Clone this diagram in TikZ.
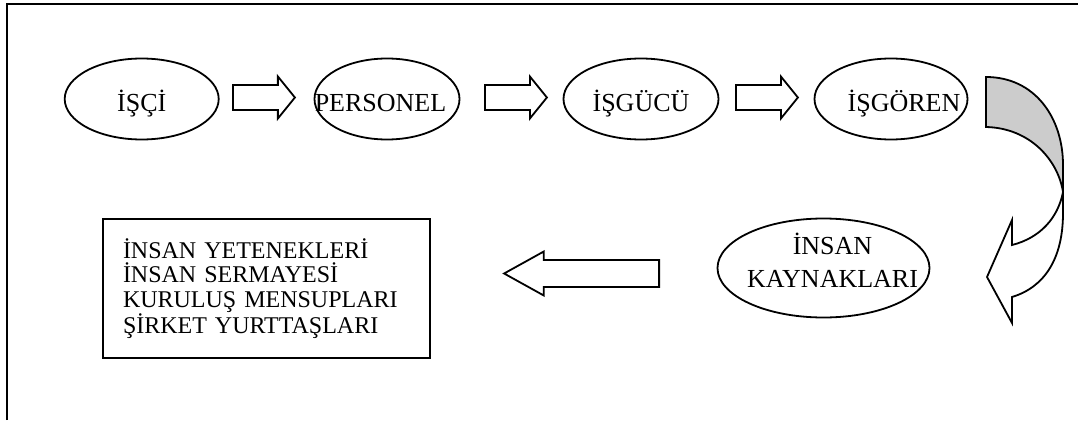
\documentclass[tikz,border=0pt]{standalone}
\usepackage{fontspec}
\setmainfont{Liberation Serif}
\usetikzlibrary{shapes.geometric,shapes.arrows,positioning}
\definecolor{Ink}{HTML}{000000}
\definecolor{Shade}{HTML}{CCCCCC}
\newcommand{\inoval}[3]{\makebox[0pt]{\hspace*{#1}\raisebox{#2}[0pt][0pt]{#3}}}
\tikzset{
  oval/.style={ellipse,draw=Ink,line width=1.8pt,inner sep=0pt,minimum height=81pt,font=\fontsize{26}{32.5}\selectfont},
  blockarr/.style={single arrow,draw=Ink,line width=1.8pt,inner sep=0pt,inner ysep=9.5pt,minimum width=42pt,minimum height=62pt,single arrow tip angle=102,single arrow head indent=0pt,anchor=tail},
  backarr/.style={blockarr,inner ysep=10.5pt,minimum width=44pt,minimum height=155pt,single arrow tip angle=58,shape border rotate=180},
  bentarr/.style={draw=Ink,line width=1.8pt,line join=miter},
  listbox/.style={rectangle,draw=Ink,line width=1.8pt,text width=287pt,inner xsep=20pt,inner ysep=0pt,minimum width=327pt,minimum height=139pt,align=left,font=\fontsize{24}{24.5}\selectfont},
  frame/.style={draw=Ink,line width=2.2pt}
}

\begin{document}
\begin{tikzpicture}[x=1pt,y=-1pt]
  \useasboundingbox (0,0) rectangle (1078,420);
  \draw[frame] (7,420) -- (7,4.3) -- (1078,4.3);

  \node[oval,minimum width=154pt] (isci) at (141.7,99) {\inoval{0pt}{-13pt}{İŞÇİ}};
  \node[oval,minimum width=145pt] (personel) at (387,99) {\inoval{-13pt}{-13pt}{PERSONEL}};
  \node[oval,minimum width=155pt] (isgucu) at (641,99) {\inoval{0pt}{-13pt}{İŞGÜCÜ}};
  \node[oval,minimum width=153pt] (isgoren) at (891,99) {\inoval{26pt}{-13pt}{İŞGÖREN}};
  \node[oval,minimum width=212pt,minimum height=99pt] (ik) at (823.5,268)
    {\inoval{18pt}{-19pt}{\begin{tabular}[b]{@{}c@{}}İNSAN\\KAYNAKLARI\end{tabular}}};

  \node[blockarr] (a1) at (232,97.5) {};
  \node[blockarr] (a2) at (484,97.5) {};
  \node[blockarr] (a3) at (735,97.5) {};
  \node[backarr] (a4) at (660,273.5) {};

  \draw[bentarr,fill=Shade] (986,77) .. controls (1035,77) and (1063,118) .. (1063,165) -- (1063,192)
    .. controls (1058,160) and (1030,128) .. (986,127) -- cycle;
  \draw[bentarr,fill=white] (1063,192) .. controls (1058,218) and (1040,238) .. (1012,245)
    -- (1012,220) -- (987,277) -- (1012,323) -- (1012,297)
    .. controls (1045,287) and (1063,258) .. (1063,213) -- cycle;

  \node[listbox] (terms) at (266.5,288.5) {İNSAN YETENEKLERİ\\İNSAN SERMAYESİ\\KURULUŞ MENSUPLARI\\ŞİRKET YURTTAŞLARI};
\end{tikzpicture}
\end{document}
